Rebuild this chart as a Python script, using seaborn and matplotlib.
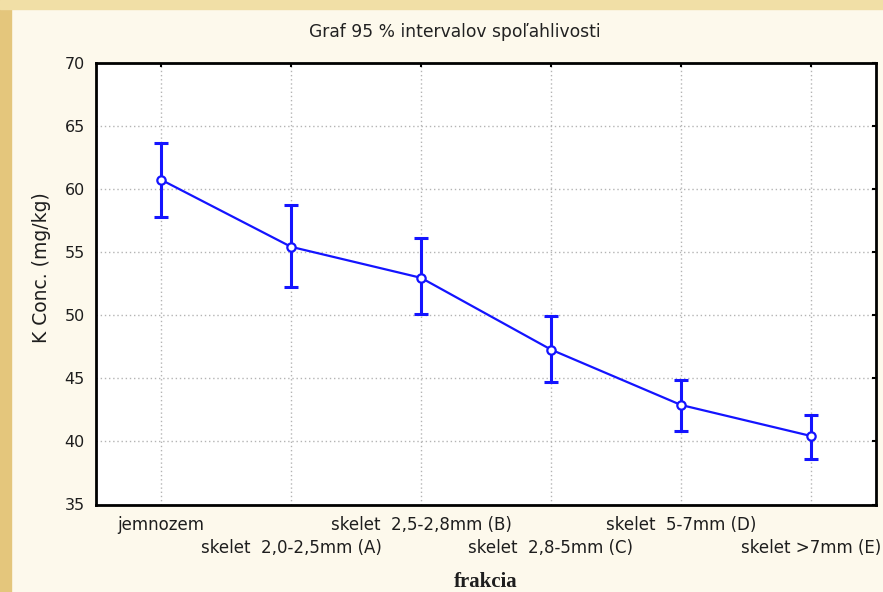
import numpy as np
import pandas as pd
import matplotlib
matplotlib.use("Agg")
import matplotlib.pyplot as plt
import matplotlib.patches as mpatches
import seaborn as sns

# ---- data ----
categories = ["jemnozem", "skelet  2,0-2,5mm (A)", "skelet  2,5-2,8mm (B)",
              "skelet  2,8-5mm (C)", "skelet  5-7mm (D)", "skelet >7mm (E)"]
means = [60.75, 55.43, 52.97, 47.28, 42.89, 40.43]
lower = [57.83, 52.22, 50.08, 44.69, 40.83, 38.60]
upper = [63.63, 58.73, 56.09, 49.92, 44.90, 42.06]
y_ticks = [35, 40, 45, 50, 55, 60, 65, 70]

title = "Graf 95 % intervalov spoľahlivosti"
ylabel = "K Conc. (mg/kg)"
xlabel = "frakcia"

df = pd.DataFrame({"pos": np.arange(len(categories)), "frakcia": categories,
                   "mean": means, "lower": lower, "upper": upper})

sns.set_theme(style="white")
plt.rcParams["font.family"] = ["DejaVu Sans"]

BLUE = "#1414ff"
CREAM = "#fdf9ec"

fig = plt.figure(figsize=(8.83, 5.92), dpi=100, facecolor=CREAM)
# decorative frame strips of the slide
fig.patches.append(mpatches.Rectangle((0, 0), 11 / 883, 1, transform=fig.transFigure,
                                      color="#e4c67c", zorder=0))
fig.patches.append(mpatches.Rectangle((0, 1 - 9 / 592), 1, 9 / 592, transform=fig.transFigure,
                                      color="#f1dfa6", zorder=0))

ax = fig.add_axes([96 / 883, 87.5 / 592, 780 / 883, 441.5 / 592])
ax.set_facecolor("white")

# error bars
yerr = np.vstack([df["mean"] - df["lower"], df["upper"] - df["mean"]])
ax.errorbar(df["pos"], df["mean"], yerr=yerr, fmt="none", ecolor=BLUE,
            elinewidth=2.2, capsize=5, capthick=2.2, zorder=3)
# mean line with open markers
sns.lineplot(data=df, x="pos", y="mean", ax=ax, color=BLUE, linewidth=1.6,
             marker="o", markersize=6, markerfacecolor="white",
             markeredgecolor=BLUE, markeredgewidth=1.6, zorder=4, sort=False)

ax.set_xlim(-0.5, len(categories) - 0.5)
ax.set_ylim(35, 70)
ax.set_yticks(y_ticks)
ax.set_xticks(df["pos"])
ax.set_xticklabels(categories, fontsize=12, color="#1e1e1e")
ax.set_yticklabels([str(t) for t in y_ticks], fontsize=11.5, color="#1e1e1e")

ax.grid(True, which="major", linestyle=(0, (1, 2)), color="#b4b4b4", linewidth=1.0)
ax.tick_params(direction="in", length=3, width=1.5, top=True, right=True,
               color="black", pad=8)
# staggered category labels
for i, tick in enumerate(ax.xaxis.get_major_ticks()):
    tick.set_pad(8 if i % 2 == 0 else 25)
for s in ax.spines.values():
    s.set_linewidth(2)
    s.set_color("black")
    s.set_visible(True)

ax.set_ylabel(ylabel, fontsize=13.5, color="#1e1e1e")
ax.yaxis.set_label_coords(-0.058, 0.536)
ax.set_xlabel(xlabel, fontsize=15, fontweight="bold", family="Liberation Serif",
              color="#1e1e1e")
ax.xaxis.set_label_coords(0.5, -0.152)

fig.text(455 / 883, 1 - 32 / 592, title, ha="center", va="center",
         fontsize=12.3, color="#222222")

fig.savefig("out.png", dpi=100, facecolor=fig.get_facecolor())
